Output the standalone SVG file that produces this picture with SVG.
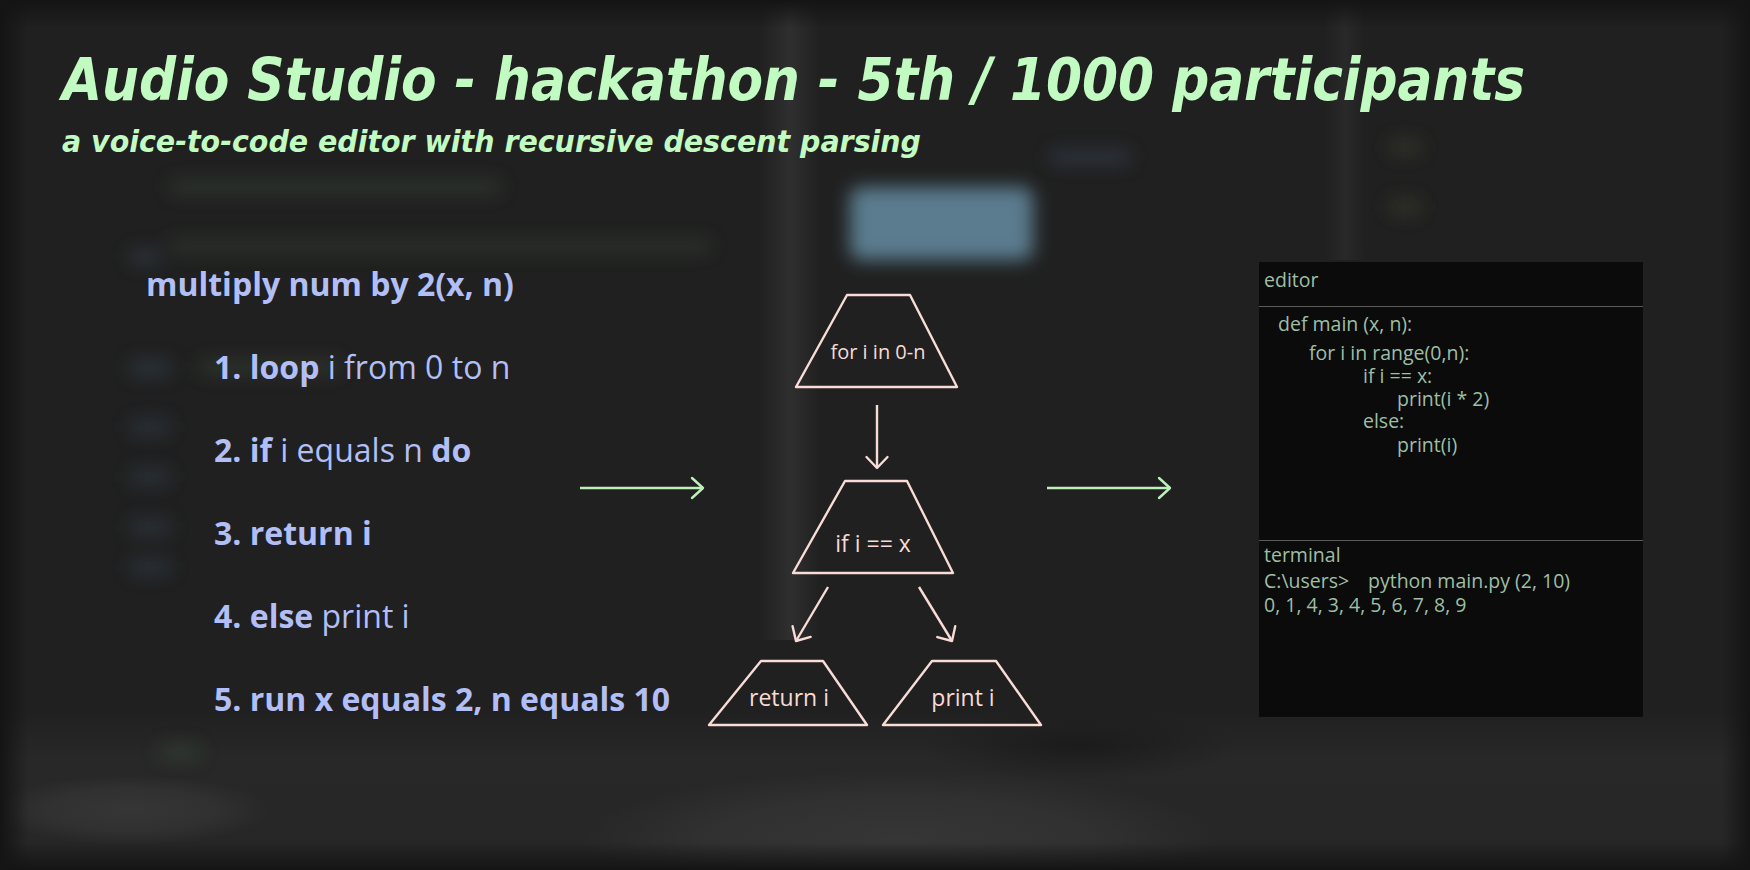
<svg xmlns="http://www.w3.org/2000/svg" width="1750" height="870" viewBox="0 0 1750 870">
<style>
.title{font-family:"DejaVu Sans Condensed","DejaVu Sans",sans-serif;font-style:italic;font-weight:bold;fill:#c2fbc2}
.step{font-family:"Open Sans",sans-serif;font-size:32px;fill:#b2bef6}
.b{font-weight:bold}
.node{fill:none;stroke:#f8dcd6;stroke-width:2.4;stroke-linejoin:round}
.nlabel{font-family:"Open Sans",sans-serif;fill:#f6dcd6;text-anchor:middle}
.panel-t{font-family:"Open Sans",sans-serif;font-size:19.5px;fill:#9ebfa5}
.pink{stroke:#f8dcd6;stroke-width:2.4;fill:none}
.green{stroke:#bdf0b8;stroke-width:2.4;fill:none}
</style>
<defs>
<filter id="blur" filterUnits="userSpaceOnUse" x="0" y="0" width="1750" height="870"><feGaussianBlur stdDeviation="9"/></filter>
<linearGradient id="hstrip" x1="0" y1="0" x2="1" y2="0">
<stop offset="0" stop-color="#2f2f2f" stop-opacity="0"/>
<stop offset="0.5" stop-color="#2f2f2f" stop-opacity="1"/>
<stop offset="1" stop-color="#2f2f2f" stop-opacity="0"/>
</linearGradient>
<linearGradient id="fadeDown" x1="0" y1="0" x2="0" y2="1">
<stop offset="0" stop-color="#141414" stop-opacity="1"/>
<stop offset="1" stop-color="#141414" stop-opacity="0"/>
</linearGradient>
<linearGradient id="fadeUp" x1="0" y1="1" x2="0" y2="0">
<stop offset="0" stop-color="#141414" stop-opacity="1"/>
<stop offset="1" stop-color="#141414" stop-opacity="0"/>
</linearGradient>
<linearGradient id="fadeRight" x1="0" y1="0" x2="1" y2="0">
<stop offset="0" stop-color="#141414" stop-opacity="1"/>
<stop offset="1" stop-color="#141414" stop-opacity="0"/>
</linearGradient>
<linearGradient id="fadeLeft" x1="1" y1="0" x2="0" y2="0">
<stop offset="0" stop-color="#141414" stop-opacity="1"/>
<stop offset="1" stop-color="#141414" stop-opacity="0"/>
</linearGradient>
<linearGradient id="bottomBand" x1="0" y1="0" x2="0" y2="1">
<stop offset="0" stop-color="#282828" stop-opacity="0"/>
<stop offset="0.3" stop-color="#282828" stop-opacity="1"/>
<stop offset="1" stop-color="#262626" stop-opacity="1"/>
</linearGradient>
<radialGradient id="blob" cx="0.5" cy="0.5" r="0.5">
<stop offset="0" stop-color="#363636" stop-opacity="1"/>
<stop offset="0.6" stop-color="#333333" stop-opacity="0.8"/>
<stop offset="1" stop-color="#333333" stop-opacity="0"/>
</radialGradient>
<radialGradient id="blobDark" cx="0.5" cy="0.5" r="0.5">
<stop offset="0" stop-color="#1b1b1b" stop-opacity="1"/>
<stop offset="1" stop-color="#1b1b1b" stop-opacity="0"/>
</radialGradient>
<marker id="mp" markerWidth="30" markerHeight="30" refX="15" refY="15" orient="auto" markerUnits="userSpaceOnUse"><path d="M4,4.5 L15,15 L4,25.5" fill="none" stroke="#f8dcd6" stroke-width="2.4" stroke-linecap="round" stroke-linejoin="round"/></marker>
<marker id="mg" markerWidth="30" markerHeight="30" refX="15" refY="15" orient="auto" markerUnits="userSpaceOnUse"><path d="M4,5 L15,15 L4,25" fill="none" stroke="#bdf0b8" stroke-width="2.4" stroke-linecap="round" stroke-linejoin="round"/></marker>
</defs>

<!-- blurred background -->
<g id="background">
<rect x="0" y="0" width="1750" height="870" fill="#202020"/>
<rect x="760" y="0" width="60" height="640" fill="url(#hstrip)"/>
<rect x="1325" y="0" width="40" height="260" fill="url(#hstrip)" opacity="0.6"/>
<rect x="0" y="710" width="1750" height="160" fill="url(#bottomBand)"/>
<ellipse cx="900" cy="840" rx="320" ry="70" fill="url(#blob)"/>
<ellipse cx="130" cy="810" rx="140" ry="35" fill="url(#blob)"/>
<ellipse cx="1080" cy="745" rx="160" ry="35" fill="url(#blobDark)"/>
<rect x="0" y="0" width="1750" height="28" fill="url(#fadeDown)"/>
<rect x="0" y="842" width="1750" height="28" fill="url(#fadeUp)"/>
<rect x="0" y="0" width="28" height="870" fill="url(#fadeRight)"/>
<rect x="1722" y="0" width="28" height="870" fill="url(#fadeLeft)"/>
<g filter="url(#blur)" opacity="0.5">
<rect x="170" y="180" width="330" height="14" fill="#3b4a3a"/>
<rect x="170" y="240" width="540" height="12" fill="#3a4a3a"/>
<rect x="130" y="250" width="30" height="14" fill="#3a4a5a"/>
<rect x="130" y="360" width="40" height="16" fill="#344656"/>
<rect x="200" y="360" width="140" height="14" fill="#3c4a3a"/>
<rect x="130" y="420" width="40" height="14" fill="#344656"/>
<rect x="130" y="470" width="40" height="14" fill="#344656"/>
<rect x="130" y="520" width="40" height="14" fill="#344656"/>
<rect x="130" y="560" width="40" height="14" fill="#344656"/>
<rect x="160" y="745" width="40" height="14" fill="#3a5040"/>
<rect x="1050" y="150" width="80" height="14" fill="#3a4a60"/>
<rect x="1390" y="140" width="30" height="14" fill="#4a4a30"/>
<rect x="1390" y="200" width="30" height="14" fill="#4a4a30"/>
</g>
<rect x="850" y="187" width="183" height="73" rx="10" fill="#5a7c8e" filter="url(#blur)"/>
</g>

<!-- title -->
<g id="title">
<text class="title" x="62" y="100" font-size="58" textLength="1463" lengthAdjust="spacingAndGlyphs">Audio Studio - hackathon - 5th / 1000 participants</text>
<text class="title" x="62" y="152" font-size="30" textLength="859" lengthAdjust="spacingAndGlyphs">a voice-to-code editor with recursive descent parsing</text>
</g>

<!-- steps -->
<g id="steps">
<text class="step b" x="146" y="296">multiply num by 2(x, n)</text>
<text class="step" x="214" y="379"><tspan class="b">1. loop</tspan> i from 0 to n</text>
<text class="step" x="214" y="462"><tspan class="b">2. if</tspan> i equals n <tspan class="b">do</tspan></text>
<text class="step b" x="214" y="545">3. return i</text>
<text class="step" x="214" y="628"><tspan class="b">4. else</tspan> print i</text>
<text class="step b" x="214" y="711">5. run x equals 2, n equals 10</text>
</g>

<!-- flowchart nodes -->
<g id="node-for">
<polygon class="node" points="847,295 910,295 957,387 796,387"/>
<text class="nlabel" x="878" y="359" font-size="20">for i in 0-n</text>
</g>
<g id="node-if">
<polygon class="node" points="845,481 907,481 953,573 793,573"/>
<text class="nlabel" x="873" y="552" font-size="23">if i == x</text>
</g>
<g id="node-return">
<polygon class="node" points="761,661 823,661 867,725 709,725"/>
<text class="nlabel" x="789" y="706" font-size="23">return i</text>
</g>
<g id="node-print">
<polygon class="node" points="932,661 996,661 1041,725 883,725"/>
<text class="nlabel" x="963" y="706" font-size="23">print i</text>
</g>

<!-- connectors -->
<g id="connectors">
<line class="pink" x1="877" y1="405" x2="877" y2="468" marker-end="url(#mp)"/>
<line class="pink" x1="828" y1="587" x2="796" y2="641" marker-end="url(#mp)"/>
<line class="pink" x1="919" y1="587" x2="952" y2="641" marker-end="url(#mp)"/>
<line class="green" x1="580" y1="488" x2="703" y2="488" marker-end="url(#mg)"/>
<line class="green" x1="1047" y1="488" x2="1170" y2="488" marker-end="url(#mg)"/>
</g>

<!-- editor panel -->
<g id="editor-panel">
<rect x="1259" y="262" width="384" height="455" fill="#0b0b0b"/>
<line x1="1259" y1="306.5" x2="1643" y2="306.5" stroke="#5a5a5a" stroke-width="1"/>
<line x1="1259" y1="540.5" x2="1643" y2="540.5" stroke="#5a5a5a" stroke-width="1"/>
<text class="panel-t" x="1264" y="287">editor</text>
<text class="panel-t" x="1278" y="331">def main (x, n):</text>
<text class="panel-t" x="1309" y="360">for i in range(0,n):</text>
<text class="panel-t" x="1363" y="383">if i == x:</text>
<text class="panel-t" x="1397" y="406">print(i * 2)</text>
<text class="panel-t" x="1363" y="428">else:</text>
<text class="panel-t" x="1397" y="452">print(i)</text>
<text class="panel-t" x="1264" y="562">terminal</text>
<text class="panel-t" x="1264" y="588">C:\users&gt;<tspan x="1368">python main.py (2, 10)</tspan></text>
<text class="panel-t" x="1264" y="612">0, 1, 4, 3, 4, 5, 6, 7, 8, 9</text>
</g>
</svg>
